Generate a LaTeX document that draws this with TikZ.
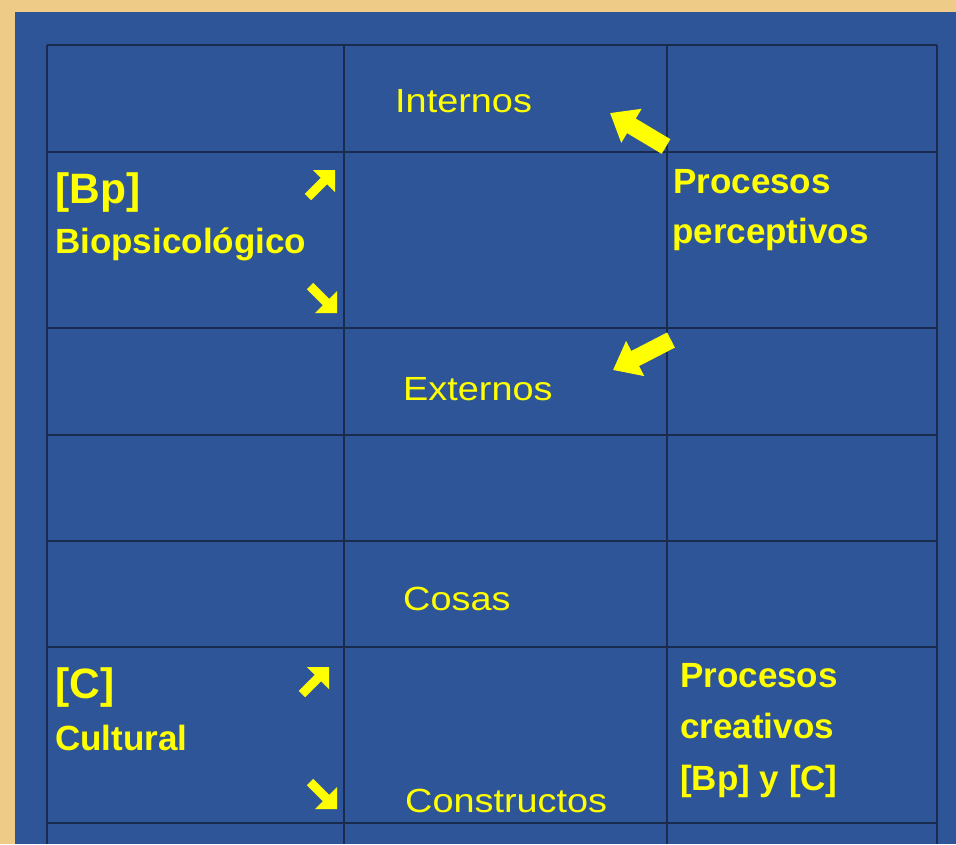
\documentclass[tikz,border=0pt]{standalone}
\usepackage{fontspec}
\setmainfont{Liberation Sans}
\newfontfamily\regfont[FakeStretch=1.13]{Liberation Sans}
\usetikzlibrary{arrows.meta}
\definecolor{beige}{HTML}{EECB87}
\definecolor{bgblue}{HTML}{2E5597}
\definecolor{gridline}{HTML}{1B2B4E}
\definecolor{txt}{HTML}{FFFF00}
\tikzset{
  reg/.style={anchor=base west, inner sep=0pt, text=txt, font=\regfont\fontsize{33.5}{40}\selectfont},
  bld/.style={anchor=base west, inner sep=0pt, text=txt, font=\bfseries\fontsize{35}{42}\selectfont},
  big/.style={anchor=base west, inner sep=0pt, text=txt, font=\bfseries\fontsize{42.5}{50}\selectfont},
  gridl/.style={draw=gridline, line width=2.2pt},
  blockarrow/.style={draw=txt, line width=17pt, -{Triangle[length=25pt,width=38pt]}},
  nearrow/.pic={\fill[txt] (0,0) -- (0,22) -- (-7.8,14.2) -- (-23.8,30.2) -- (-30.2,23.8) -- (-14.2,7.8) -- (-22,0) -- cycle;},
  searrow/.pic={\fill[txt] (0,0) -- (0,-22) -- (-7.8,-14.2) -- (-23.8,-30.2) -- (-30.2,-23.8) -- (-14.2,-7.8) -- (-22,0) -- cycle;}
}
\begin{document}
\begin{tikzpicture}[x=1pt,y=-1pt]
\useasboundingbox (0,0) rectangle (956,844);
\fill[beige] (0,0) rectangle (956,844);
\fill[bgblue] (15,12) rectangle (956,844);
% grid
\foreach \yy in {45,152,328,435,541,647,823}
  \draw[gridl] (47,\yy) -- (937,\yy);
\foreach \xx in {47,344,667,937}
  \draw[gridl] (\xx,45) -- (\xx,844);
% texts
\node[reg] (internos) at (395,112) {Internos};
\node[big] (bp) at (55,203) {[Bp]};
\node[bld] (bio) at (55,253) {Biopsicológico};
\node[bld] (pp1) at (673,193) {Procesos};
\node[bld] (pp2) at (672,243) {perceptivos};
\node[reg] (externos) at (403,400) {Externos};
\node[reg] (cosas) at (403,610) {Cosas};
\node[big] (c) at (55,698) {[C]};
\node[bld] (cult) at (55,750) {Cultural};
\node[bld] (pc1) at (680,687) {Procesos};
\node[bld] (pc2) at (680,738) {creativos};
\node[bld] (pc3) at (680,790) {[Bp] y [C]};
\node[reg] (constructos) at (405,812) {Constructos};
% block arrows
\coordinate (a1s) at (666,146.5);
\coordinate (a1t) at (610,113);
\coordinate (a2s) at (671,340);
\coordinate (a2t) at (613,370);
\draw[blockarrow] (a1s) -- (a1t);
\draw[blockarrow] (a2s) -- (a2t);
% small arrows
\pic at (335,170) {nearrow};
\pic at (337,313) {searrow};
\pic at (329,667) {nearrow};
\pic at (337,809) {searrow};
\end{tikzpicture}
\end{document}
